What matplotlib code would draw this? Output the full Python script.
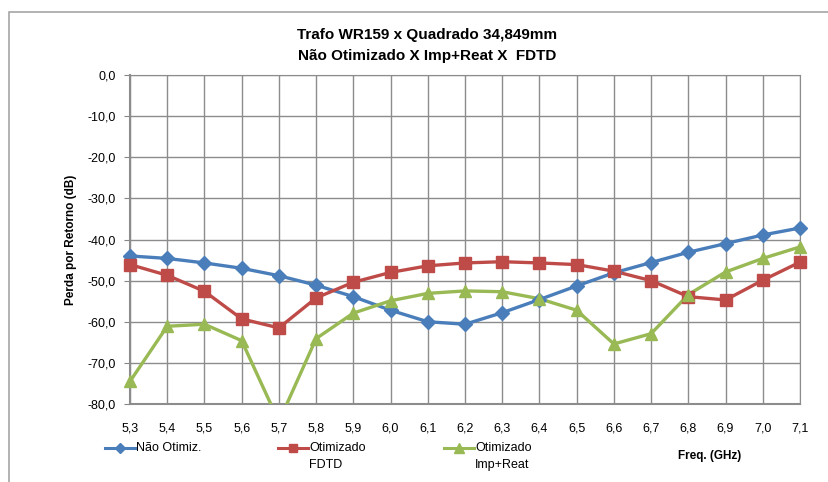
import matplotlib
matplotlib.use("Agg")
import matplotlib.pyplot as plt
import numpy as np
from matplotlib.lines import Line2D
from matplotlib.patches import Rectangle

plt.rcParams['font.family'] = ['Liberation Sans', 'DejaVu Sans']

# dados
freq = [5.3, 5.4, 5.5, 5.6, 5.7, 5.8, 5.9, 6.0, 6.1, 6.2,
        6.3, 6.4, 6.5, 6.6, 6.7, 6.8, 6.9, 7.0, 7.1]
nao_otimiz = [-44.0, -44.6, -45.7, -47.0, -48.8, -51.1, -53.9, -57.2, -60.0, -60.6,
              -57.8, -54.6, -51.3, -48.1, -45.6, -43.1, -41.0, -38.9, -37.2]
otim_fdtd = [-46.1, -48.7, -52.6, -59.3, -61.5, -54.2, -50.4, -48.0, -46.4, -45.7,
             -45.4, -45.7, -46.1, -47.7, -50.0, -53.9, -54.7, -49.9, -45.5]
otim_imp = [-74.5, -61.1, -60.6, -64.6, -84.3, -64.1, -57.9, -54.9, -53.1, -52.5,
            -52.7, -54.4, -57.2, -65.4, -62.9, -53.4, -47.9, -44.6, -41.8]
y_ticks = [0, -10, -20, -30, -40, -50, -60, -70, -80]

W, H = 829, 482
fig = plt.figure(figsize=(W / 100, H / 100), dpi=100)


def fx(px):
    return px / W


def fy(py):
    return 1 - py / H


# moldura do gráfico
fig.add_artist(Rectangle((fx(9), fy(520)), fx(880), fy(12) - fy(520),
                         transform=fig.transFigure, fill=False,
                         edgecolor='#a6a6a6', lw=1.2))

ax = fig.add_axes([fx(130), fy(404), fx(800) - fx(130), fy(75) - fy(404)])

series = [
    (nao_otimiz, '#4a7ebb', 'D', 7, 'Não Otimiz.'),
    (otim_fdtd, '#be4b48', 's', 8, 'Otimizado\nFDTD'),
    (otim_imp, '#98b954', '^', 8.5, 'Otimizado\nImp+Reat'),
]
x = np.array(freq)
lines = []
for vals, cor, mk, ms, nome in series:
    v = np.array(vals)
    ln, = ax.plot(x, v, color=cor, lw=2.4, label=nome, zorder=3)
    # marcadores fora do recorte (como no Excel), só os pontos dentro da escala
    dentro = v >= -80
    ax.plot(x[dentro], v[dentro], lw=0, marker=mk, ms=ms, color=cor,
            markeredgecolor=cor, clip_on=False, zorder=4)
    ln.set_marker(mk)
    ln.set_markersize(ms)
    ln.set_markevery([])
    lines.append(ln)

ax.set_xlim(5.3, 7.1)
ax.set_ylim(-80, 0)
ax.set_xticks(freq)
ax.set_xticklabels([f"{f:.1f}".replace('.', ',') for f in freq], fontsize=9)
ax.set_yticks(y_ticks)
ax.set_yticklabels([f"{v:.1f}".replace('.', ',') for v in y_ticks], fontsize=9)
ax.tick_params(axis='x', length=0, pad=13)
ax.tick_params(axis='y', length=4, color='#868686', pad=6)
ax.grid(True, color='#8c8c8c', lw=1)
ax.set_axisbelow(True)
for sp in ax.spines.values():
    sp.set_color('#8c8c8c')
ax.spines['left'].set_linewidth(1.5)
ax.spines['bottom'].set_linewidth(1.5)

ax.set_ylabel("Perda por Retorno (dB)", fontsize=8.5, fontweight='bold', labelpad=8)

fig.text(fx(427), fy(35), "Trafo WR159 x Quadrado 34,849mm", ha='center', va='center',
         fontsize=11, fontweight='bold')
fig.text(fx(427), fy(56), "Não Otimizado X Imp+Reat X  FDTD", ha='center', va='center',
         fontsize=11, fontweight='bold')

# legenda manual (linha de cima alinhada com o símbolo, como no Excel)
leg_x = [105, 278, 444]
for ln, x0 in zip(lines, leg_x):
    fig.add_artist(Line2D([fx(x0), fx(x0 + 30)], [fy(448), fy(448)],
                          transform=fig.transFigure, color=ln.get_color(), lw=2.2))
    fig.add_artist(Line2D([fx(x0 + 15)], [fy(448)], transform=fig.transFigure,
                          color=ln.get_color(), marker=ln.get_marker(),
                          ms=ln.get_markersize() * 0.8, lw=0))
    fig.text(fx(x0 + 31), fy(442), ln.get_label(), ha='left', va='top',
             fontsize=9, linespacing=1.55)

fig.text(fx(710), fy(456), "Freq. (GHz)", ha='center', va='center',
         fontsize=8.5, fontweight='bold')

fig.savefig("out.png", dpi=100)
